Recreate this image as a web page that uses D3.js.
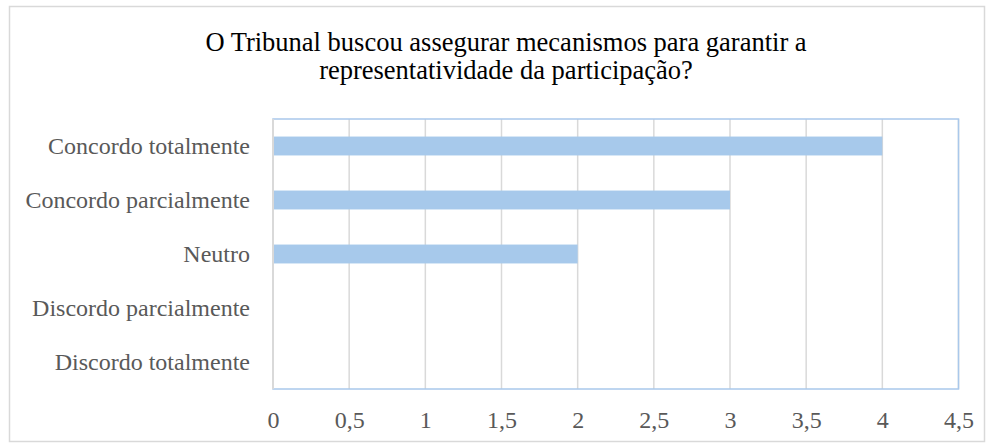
<!DOCTYPE html>
<html>
<head>
<meta charset="utf-8">
<script src="https://cdn.jsdelivr.net/npm/d3@7"></script>
<style>
  body { margin: 0; background: #fff; }
</style>
</head>
<body>
<div id="viz"></div>
<script>
    var width = 994;
    var height = 448;
    var serif = "'Liberation Serif', 'Times New Roman', serif";

    // chart data
    var categories = ["Concordo totalmente", "Concordo parcialmente", "Neutro", "Discordo parcialmente", "Discordo totalmente"];
    var values = [4, 3, 2, 0, 0];
    var xTicks = [0, 0.5, 1, 1.5, 2, 2.5, 3, 3.5, 4, 4.5];
    var titleLines = ["O Tribunal buscou assegurar mecanismos para garantir a", "representatividade da participação?"];

    var margin = {top: 119, right: 35.5, bottom: 59, left: 273};

    var svg = d3.select("#viz")
      .append("svg")
      .attr("width", width)
      .attr("height", height);

    // outer frame
    svg.append("rect")
      .attr("x", 9.5)
      .attr("y", 6.5)
      .attr("width", width - 19)
      .attr("height", height - 13)
      .attr("fill", "#fff")
      .attr("stroke", "#d9d9d9")
      .attr("stroke-width", 1.5);

    // title
    svg.append("text")
      .attr("x", 506)
      .attr("y", 51)
      .attr("text-anchor", "middle")
      .attr("font-family", serif)
      .attr("font-size", "26.5px")
      .attr("fill", "#000")
      .selectAll("tspan")
      .data(titleLines)
      .enter().append("tspan")
      .attr("x", 506)
      .attr("dy", function(d, i) { return i == 0 ? 0 : 27.5; })
      .text(function(d) { return d; });

    var x = d3.scaleLinear()
      .domain([0, 4.5])
      .range([margin.left, width - margin.right]);

    var y = d3.scaleBand()
      .domain(categories)
      .range([margin.top, height - margin.bottom])
      .paddingInner(0.65)
      .paddingOuter(0.325);

    // gridlines
    svg.append("g")
      .selectAll("line")
      .data(xTicks.slice(1))
      .enter().append("line")
      .attr("x1", function(d) { return x(d); })
      .attr("x2", function(d) { return x(d); })
      .attr("y1", margin.top)
      .attr("y2", height - margin.bottom)
      .attr("stroke", "#d9d9d9")
      .attr("stroke-width", 1.5);

    // plot area border
    svg.append("rect")
      .attr("x", margin.left)
      .attr("y", margin.top)
      .attr("width", x(4.5) - margin.left)
      .attr("height", height - margin.bottom - margin.top)
      .attr("fill", "none")
      .attr("stroke", "#a9c8eb")
      .attr("stroke-width", 1.5);

    // bars
    svg.append("g")
      .selectAll("rect")
      .data(values)
      .enter().append("rect")
      .attr("x", x(0))
      .attr("y", function(d, i) { return y(categories[i]); })
      .attr("width", function(d) { return x(d) - x(0); })
      .attr("height", y.bandwidth())
      .attr("fill", "#a7c9eb");

    // category axis line
    svg.append("line")
      .attr("x1", margin.left)
      .attr("x2", margin.left)
      .attr("y1", margin.top)
      .attr("y2", height - margin.bottom)
      .attr("stroke", "#d9d9d9")
      .attr("stroke-width", 2);

    // x axis
    var xAxis = svg.append("g")
      .attr("transform", "translate(0," + (height - margin.bottom) + ")")
      .call(d3.axisBottom(x)
        .tickValues(xTicks)
        .tickSize(0)
        .tickPadding(22)
        .tickFormat(function(d) { return String(d).replace(".", ","); }));
    xAxis.select(".domain").remove();
    xAxis.selectAll("text")
      .attr("font-size", "24px")
      .attr("font-family", serif)
      .attr("fill", "#595959");

    // y axis labels
    var yAxis = svg.append("g")
      .attr("transform", "translate(" + margin.left + ",0)")
      .call(d3.axisLeft(y).tickSize(0).tickPadding(23));
    yAxis.select(".domain").remove();
    yAxis.selectAll("text")
      .attr("font-size", "24px")
      .attr("font-family", serif)
      .attr("fill", "#595959");
</script>
</body>
</html>
